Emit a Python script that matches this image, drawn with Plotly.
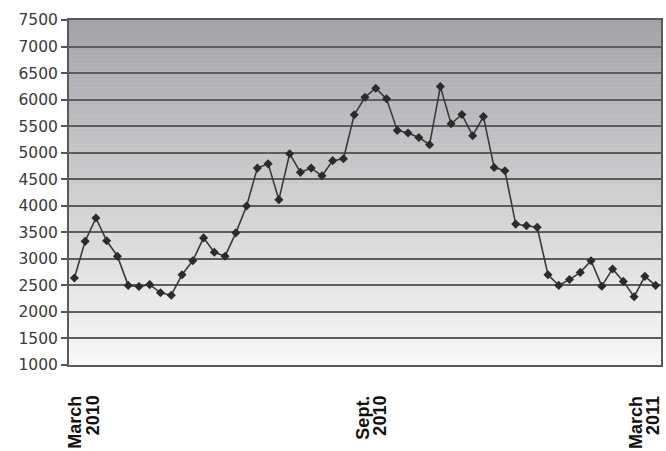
import plotly.graph_objects as go

# Weekly readings, March 2010 to March 2011
week_index = list(range(55))
weekly_values = [
    2640, 3330, 3770, 3340, 3050, 2500, 2480, 2515, 2360, 2315,
    2700, 2965, 3395, 3125, 3050, 3490, 3995, 4710, 4790, 4115,
    4980, 4630, 4710, 4565, 4850, 4885, 5715, 6045, 6215, 6015,
    5420, 5370, 5285, 5150, 6245, 5545, 5720, 5320, 5680, 4720,
    4660, 3655, 3625, 3595, 2700, 2500, 2610, 2745, 2965, 2485,
    2810, 2575, 2285, 2670, 2500,
]

# Y axis ticks
y_ticks = list(range(1000, 7501, 500))

# Period labels along the bottom: (position on the week axis, first line, second line)
period_positions = [0.95, 27.65, 53.0]
period_line1 = ["March", "Sept.", "March"]
period_line2 = ["2010", "2010", "2011"]

Y_MIN, Y_MAX = 1000, 7500

fig = go.Figure()

fig.add_trace(go.Scatter(
    x=week_index,
    y=weekly_values,
    mode="lines+markers",
    line=dict(color="#3a3a3a", width=1.6),
    marker=dict(symbol="diamond", size=7, color="#2b2b2b"),
    hoverinfo="x+y",
    showlegend=False,
))

# Vertical grey gradient behind the plot: dark at the top, almost white at the bottom
top_rgb = (163, 164, 168)
bottom_rgb = (249, 249, 249)
band = 25
shapes = []
n_bands = (Y_MAX - Y_MIN) // band
for i in range(n_bands):
    y0 = Y_MIN + i * band
    t = (i + 0.5) / n_bands
    r = round(bottom_rgb[0] + (top_rgb[0] - bottom_rgb[0]) * t)
    g = round(bottom_rgb[1] + (top_rgb[1] - bottom_rgb[1]) * t)
    b = round(bottom_rgb[2] + (top_rgb[2] - bottom_rgb[2]) * t)
    shapes.append(dict(
        type="rect", xref="paper", yref="y",
        x0=0, x1=1, y0=y0, y1=min(y0 + band * 1.4, Y_MAX),
        fillcolor=f"rgb({r},{g},{b})",
        line=dict(width=0),
        layer="below",
    ))

annotations = []
label_font = dict(family="Liberation Sans, Arial, sans-serif", size=18, color="#111111")
for pos, l1, l2 in zip(period_positions, period_line1, period_line2):
    for text, shift in ((l1, -9), (l2, 8)):
        annotations.append(dict(
            x=pos, y=-0.083, xref="x", yref="paper",
            text=f"<b>{text}</b>",
            textangle=-90,
            showarrow=False,
            xanchor="center", yanchor="top",
            xshift=shift,
            font=label_font,
        ))

fig.update_layout(
    width=666, height=451,
    margin=dict(l=69, r=3, t=20, b=86),
    paper_bgcolor="#ffffff",
    plot_bgcolor="#f9f9f9",
    shapes=shapes,
    annotations=annotations,
    xaxis=dict(
        range=[-0.5, 54.5],
        showgrid=False,
        zeroline=False,
        showticklabels=False,
        ticks="",
        showline=True, mirror=True,
        linecolor="#5a5a5a", linewidth=2,
        fixedrange=True,
    ),
    yaxis=dict(
        range=[Y_MIN, Y_MAX],
        tickvals=y_ticks,
        ticktext=[str(v) for v in y_ticks],
        showgrid=True, gridcolor="#5c5c5c", gridwidth=2,
        zeroline=False,
        ticks="outside", ticklen=6, tickwidth=1.5, tickcolor="#555555",
        showline=True, mirror=True,
        linecolor="#5a5a5a", linewidth=2,
        tickfont=dict(family="DejaVu Sans, Verdana, sans-serif", size=15.5, color="#3a3a3a"),
        fixedrange=True,
    ),
)

fig.write_html("out.html")
